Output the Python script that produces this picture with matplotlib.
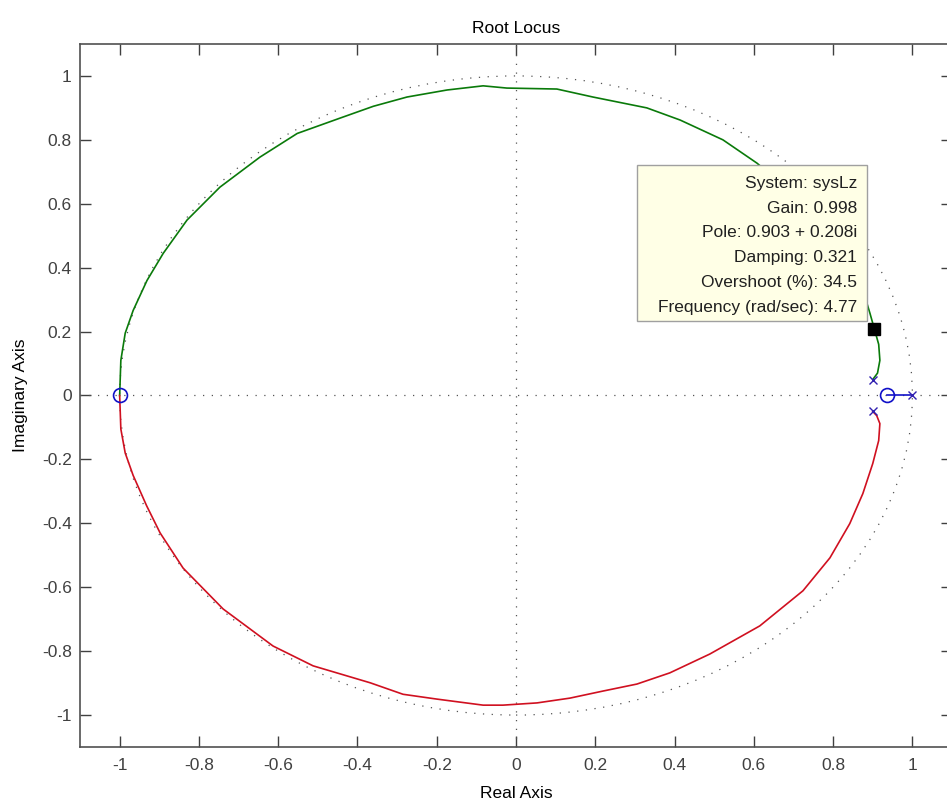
import matplotlib
matplotlib.use("Agg")
import matplotlib.pyplot as plt
import matplotlib.patches as mpatches

plt.rcParams['font.family'] = ['Liberation Sans', 'DejaVu Sans']

# ---------- data ----------
# upper branch (green), from zero at -1 to pole at 0.9+0.05i
green_re = [-1.0, -0.997, -0.986, -0.966, -0.931, -0.89, -0.83, -0.747, -0.646, -0.552,
            -0.444, -0.36, -0.275, -0.174, -0.083, -0.023, 0.103, 0.194, 0.33, 0.414, 0.522,
            0.608, 0.69, 0.76, 0.82, 0.86, 0.885, 0.893, 0.903, 0.915, 0.918, 0.912, 0.90]
green_im = [0.0, 0.11, 0.195, 0.266, 0.36, 0.445, 0.549, 0.652, 0.746, 0.82,
            0.868, 0.905, 0.934, 0.956, 0.969, 0.962, 0.959, 0.934, 0.90, 0.862, 0.80,
            0.727, 0.64, 0.55, 0.45, 0.36, 0.29, 0.257, 0.213, 0.16, 0.11, 0.07, 0.05]

# lower branch (red), from zero at -1 to pole at 0.9-0.05i
red_re = [-1.0, -0.997, -0.986, -0.966, -0.932, -0.898, -0.84, -0.739, -0.613, -0.512,
          -0.368, -0.285, -0.2, -0.083, -0.033, 0.053, 0.136, 0.219, 0.305, 0.388,
          0.489, 0.615, 0.724, 0.792, 0.842, 0.875, 0.90, 0.915, 0.918, 0.91, 0.90]
red_im = [0.0, -0.105, -0.18, -0.25, -0.345, -0.43, -0.54, -0.668, -0.784, -0.846,
          -0.899, -0.935, -0.95, -0.969, -0.969, -0.962, -0.947, -0.925, -0.903, -0.868,
          -0.809, -0.721, -0.611, -0.508, -0.401, -0.307, -0.213, -0.141, -0.088, -0.063, -0.05]

# real branch (blue), from pole at 1 to zero at 0.935
blue_re = [1.0, 0.935]
blue_im = [0.0, 0.0]

pole_re = [0.90, 0.90, 1.0]
pole_im = [0.05, -0.05, 0.0]
zero_re = [-1.0, 0.935]
zero_im = [0.0, 0.0]

tip_re, tip_im = 0.903, 0.208
tip_lines = ['System: sysLz', 'Gain: 0.998', 'Pole: 0.903 + 0.208i',
             'Damping: 0.321', 'Overshoot (%): 34.5', 'Frequency (rad/sec): 4.77']

ticks = [-1, -0.8, -0.6, -0.4, -0.2, 0, 0.2, 0.4, 0.6, 0.8, 1]

FS = 12.5

# ---------- figure ----------
fig = plt.figure(figsize=(9.47, 8.01), dpi=100)
ax = fig.add_axes([0.0845, 0.0674, 0.9208, 0.8777])

grid_kw = dict(color='#555555', linewidth=0.9, linestyle=(0, (1, 6)))
ax.axhline(0, **grid_kw)
ax.axvline(0, **grid_kw)
ax.add_patch(mpatches.Circle((0, 0), 1.0, fill=False, **grid_kw))

ax.plot(green_re, green_im, color='#0a7a0a', linewidth=1.2)
ax.plot(red_re, red_im, color='#d01020', linewidth=1.2)
ax.plot(blue_re, blue_im, color='#1010c8', linewidth=1.2)
ax.plot(pole_re, pole_im, 'x', color='#3020b0', markersize=6, markeredgewidth=1.0)
ax.plot(zero_re, zero_im, 'o', color='#1010c8', markerfacecolor='none',
        markersize=10, markeredgewidth=1.2)

# data tip
ax.plot([tip_re], [tip_im], 's', color='black', markersize=8, zorder=6)
ax.add_patch(mpatches.Rectangle((0.305, 0.232), 0.58, 0.489, facecolor='#ffffe6',
                                edgecolor='#a0a0a0', linewidth=1.0, zorder=5))
for i, s in enumerate(tip_lines):
    ax.text(0.86, 0.664 - i * 0.0775, s, ha='right', va='center', fontsize=FS,
            color='#202020', zorder=7)

ax.set_xlim(-1.1, 1.1)
ax.set_ylim(-1.1, 1.1)
ax.set_xticks(ticks)
ax.set_yticks(ticks)
ax.set_xticklabels(['%g' % t for t in ticks])
ax.set_yticklabels(['%g' % t for t in ticks])
ax.tick_params(direction='in', length=8, width=1, top=True, right=True,
               colors='#404040', labelsize=FS, pad=6)
ax.tick_params(axis='x', pad=8)
for sp in ax.spines.values():
    sp.set_color('#505050')
    sp.set_linewidth(1.2)

ax.set_title('Root Locus', fontsize=FS, pad=8)
ax.set_xlabel('Real Axis', fontsize=FS, labelpad=9)
ax.set_ylabel('Imaginary Axis', fontsize=FS, labelpad=10)

fig.savefig('out.png', dpi=100)
